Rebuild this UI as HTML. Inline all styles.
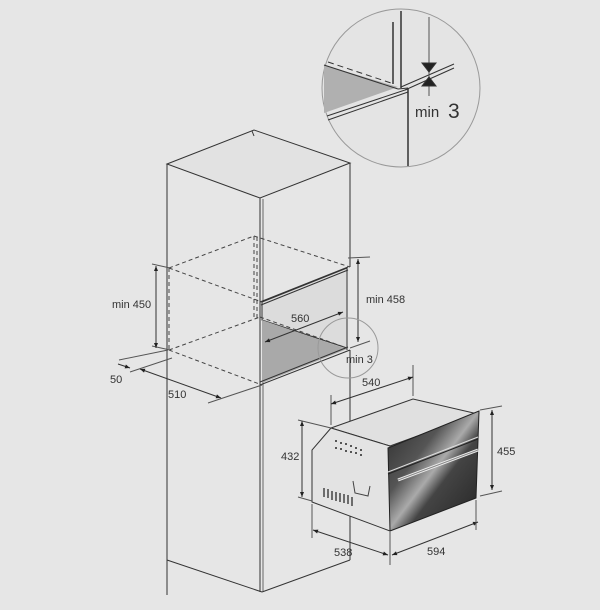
<!DOCTYPE html>
<html><head><meta charset="utf-8"><style>
html,body{margin:0;padding:0;background:#e6e6e6;}
svg{display:block;}
text{font-family:"Liberation Sans",sans-serif;fill:#333;}
</style></head><body>
<svg width="600" height="610" viewBox="0 0 600 610" xmlns="http://www.w3.org/2000/svg">
<defs>
<marker id="a" viewBox="0 0 10 10" refX="10" refY="5" markerWidth="7" markerHeight="5" orient="auto-start-reverse"><path d="M0,1 L10,5 L0,9 Z" fill="#222"/></marker>
<linearGradient id="g" x1="0" y1="0" x2="1" y2="1">
<stop offset="0" stop-color="#2a2a2a"/><stop offset="0.35" stop-color="#555"/><stop offset="0.5" stop-color="#aaa"/><stop offset="0.6" stop-color="#444"/><stop offset="1" stop-color="#222"/></linearGradient>
</defs>
<rect width="600" height="610" fill="#e6e6e6"/>
<g stroke="#333" stroke-width="1" fill="none">
<polygon points="167,164 254,130 350,163 260,198" fill="#e2e2e2"/>
<line x1="252" y1="131" x2="254" y2="136"/>
<line x1="167" y1="164" x2="167" y2="595"/>
<line x1="260" y1="198" x2="260" y2="592"/>
<line x1="263" y1="199" x2="263" y2="592" stroke="#666"/>
<line x1="350" y1="163" x2="350" y2="267"/>
<line x1="350" y1="350" x2="350" y2="560"/>
<line x1="167" y1="560" x2="262" y2="592"/>
<line x1="262" y1="592" x2="350" y2="560"/>
<polygon points="262,302 347,268 347,348 262,320" fill="#dcdcdc"/>
<polygon points="262,320 347,349 262,383" fill="#a9a9a9" stroke="none"/>
<line x1="260" y1="302" x2="348" y2="267"/>
<line x1="261" y1="305" x2="348" y2="270"/>
<line x1="260" y1="385" x2="350" y2="350"/>
<line x1="260" y1="382" x2="348" y2="347"/>
<line x1="347" y1="267" x2="347" y2="350"/>
<g stroke-dasharray="4,3" stroke="#444">
<line x1="169" y1="268" x2="169" y2="350"/>
<line x1="169" y1="268" x2="254" y2="236"/>
<line x1="169" y1="268" x2="262" y2="302"/>
<line x1="254" y1="236" x2="350" y2="267"/>
<line x1="254" y1="236" x2="254" y2="318"/>
<line x1="257" y1="237" x2="257" y2="318"/>
<line x1="169" y1="350" x2="262" y2="385"/>
<line x1="169" y1="350" x2="260" y2="317"/>
<line x1="260" y1="317" x2="347" y2="348"/>
</g>
<line x1="152" y1="264" x2="170" y2="268" stroke="#555"/>
<line x1="152" y1="346" x2="170" y2="350" stroke="#555"/>
<line x1="156" y1="266" x2="156" y2="348" marker-start="url(#a)" marker-end="url(#a)"/>
<line x1="119" y1="360" x2="168" y2="350" stroke="#555"/>
<line x1="130" y1="372" x2="172" y2="358" stroke="#555"/>
<line x1="118" y1="364" x2="130" y2="368" marker-end="url(#a)"/>
<line x1="140" y1="369" x2="221" y2="398" marker-start="url(#a)" marker-end="url(#a)"/>
<line x1="208" y1="403" x2="262" y2="385" stroke="#555"/>
<line x1="265" y1="342" x2="343" y2="312" marker-start="url(#a)" marker-end="url(#a)"/>
<line x1="348" y1="258" x2="370" y2="257" stroke="#555"/>
<line x1="358" y1="259" x2="358" y2="342" marker-start="url(#a)" marker-end="url(#a)"/>
<line x1="350" y1="348" x2="370" y2="341" stroke="#555"/>
<circle cx="348" cy="348" r="30" stroke="#999"/>
<circle cx="401" cy="88" r="79" fill="#e4e4e4" stroke="#999"/>
<path d="M324,65 L324,113 L398,87 Z" fill="#b0b0b0" stroke="none"/>
<line x1="328" y1="62" x2="394" y2="84" stroke-dasharray="6,4"/>
<line x1="324" y1="65" x2="398" y2="89"/>
<line x1="393" y1="22" x2="393" y2="84" stroke-width="1.5"/>
<line x1="401" y1="11" x2="401" y2="88" stroke-width="1.5"/>
<line x1="408" y1="88" x2="408" y2="166" stroke-width="1.5"/>
<line x1="398" y1="89" x2="408" y2="88"/>
<line x1="327" y1="116" x2="408" y2="89"/>
<line x1="328" y1="120" x2="408" y2="92"/>
<line x1="401" y1="87" x2="454" y2="64"/>
<line x1="405" y1="90" x2="454" y2="68"/>
<line x1="429" y1="17" x2="429" y2="96" stroke="#555"/>
<path d="M422,63 L436,63 L429,72 Z" fill="#222"/>
<path d="M422,86 L436,86 L429,77 Z" fill="#222"/>
<polygon points="331,428 413,399 478,414 390,446" fill="#e0e0e0"/>
<polygon points="331,428 390,446 390,531 312,502 312,450" fill="#e3e3e3"/>
<polygon points="388,448 479,411 476,498 390,531" fill="url(#g)" stroke="#222"/>
<line x1="388" y1="472" x2="478" y2="437" stroke="#ddd" stroke-width="1"/>
<line x1="388" y1="474" x2="478" y2="439" stroke="#222" stroke-width="1"/>
<line x1="398" y1="480" x2="478" y2="450" stroke="#eee" stroke-width="3"/>
<line x1="398" y1="480" x2="478" y2="450" stroke="#888" stroke-width="1"/>
<line x1="331" y1="425" x2="331" y2="395" stroke="#555"/>
<line x1="413" y1="396" x2="413" y2="365" stroke="#555"/>
<line x1="331" y1="404" x2="413" y2="377" marker-start="url(#a)" marker-end="url(#a)"/>
<line x1="480" y1="410" x2="502" y2="406" stroke="#555"/>
<line x1="480" y1="496" x2="502" y2="491" stroke="#555"/>
<line x1="492" y1="410" x2="492" y2="490" marker-start="url(#a)" marker-end="url(#a)"/>
<line x1="298" y1="420" x2="331" y2="428" stroke="#555"/>
<line x1="298" y1="497" x2="312" y2="501" stroke="#555"/>
<line x1="302" y1="421" x2="302" y2="497" marker-start="url(#a)" marker-end="url(#a)"/>
<line x1="312" y1="504" x2="312" y2="538" stroke="#555"/>
<line x1="390" y1="532" x2="390" y2="565" stroke="#555"/>
<line x1="313" y1="530" x2="388" y2="555" marker-start="url(#a)" marker-end="url(#a)"/>
<line x1="392" y1="555" x2="478" y2="522" marker-start="url(#a)" marker-end="url(#a)"/>
<line x1="476" y1="500" x2="476" y2="530" stroke="#555"/>
</g>
<g fill="#555">
<rect x="335" y="440" width="2" height="2"/><rect x="340" y="442" width="2" height="2"/><rect x="345" y="443" width="2" height="2"/>
<rect x="335" y="447" width="2" height="2"/><rect x="340" y="448" width="2" height="2"/><rect x="345" y="450" width="2" height="2"/><rect x="350" y="451" width="2" height="2"/><rect x="355" y="452" width="2" height="2"/><rect x="360" y="454" width="2" height="2"/>
<rect x="350" y="445" width="2" height="2"/><rect x="355" y="447" width="2" height="2"/><rect x="360" y="449" width="2" height="2"/>
</g>
<g stroke="#444" stroke-width="1.5">
<line x1="324" y1="488" x2="324" y2="497"/><line x1="328" y1="489" x2="328" y2="498"/><line x1="332" y1="491" x2="332" y2="500"/><line x1="336" y1="492" x2="336" y2="501"/><line x1="340" y1="493" x2="340" y2="502"/><line x1="344" y1="494" x2="344" y2="503"/><line x1="348" y1="495" x2="348" y2="504"/><line x1="352" y1="497" x2="352" y2="506"/>
</g>
<path d="M353,481 L355,493 L368,496 L370,486" stroke="#444" fill="none"/>
<g font-size="11">
<text x="112" y="308">min 450</text>
<text x="110" y="383">50</text>
<text x="168" y="398">510</text>
<text x="291" y="322">560</text>
<text x="366" y="303">min 458</text>
<text x="346" y="363">min 3</text>
<text x="362" y="386">540</text>
<text x="497" y="455">455</text>
<text x="281" y="460">432</text>
<text x="334" y="556">538</text>
<text x="427" y="555">594</text>
</g>
<text x="415" y="117" font-size="15">min</text>
<text x="448" y="118" font-size="21">3</text>
</svg>
</body></html>
